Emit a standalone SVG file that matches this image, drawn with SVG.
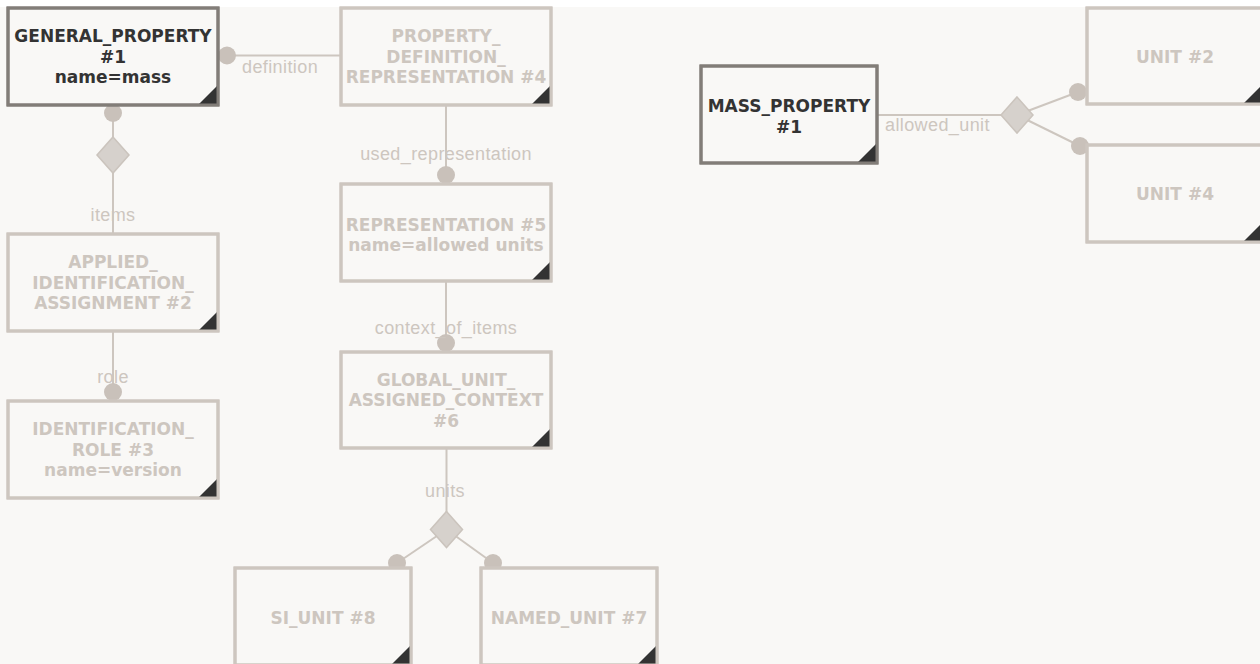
<svg xmlns="http://www.w3.org/2000/svg" width="1260" height="664" viewBox="0 0 1260 664">
<style>
.bg{fill:#f9f8f6}
.box{fill:#f9f8f6;stroke:#cdc6bf;stroke-width:3}
.box.act{stroke:#827d78}
.tri{fill:#333333}
.nt{font-family:"DejaVu Sans",Verdana,sans-serif;font-weight:bold;font-size:17px;fill:#cdc6bf;text-anchor:middle}
.nt.act{fill:#333333}
.ln{stroke:#cdc6bf;stroke-width:2;fill:none}
.dot{fill:#c9c1ba}
.dia{fill:#d6d1cc;stroke:#cbc4bd;stroke-width:1.5}
.lb{font-family:"Liberation Sans",Arial,sans-serif;font-size:18px;letter-spacing:0.4px;fill:#cdc6bf}
.mid{text-anchor:middle}
</style>
<rect width="1260" height="664" fill="#ffffff"/>
<rect class="bg" x="0" y="7" width="1260" height="657"/>

<g id="connectors">
  <!-- definition -->
  <line class="ln" x1="227" y1="55.5" x2="341" y2="55.5"/>
  <circle class="dot" cx="227" cy="55.5" r="9"/>
  <text class="lb" x="242" y="73">definition</text>
  <!-- items -->
  <line class="ln" x1="113" y1="105" x2="113" y2="234"/>
  <circle class="dot" cx="113" cy="113" r="9"/>
  <polygon class="dia" points="113,137 129,155 113,173 97,155"/>
  <text class="lb mid" x="113" y="220.5">items</text>
  <!-- role -->
  <line class="ln" x1="113" y1="331" x2="113" y2="401"/>
  <circle class="dot" cx="113" cy="392" r="9"/>
  <text class="lb mid" x="113" y="383">role</text>
  <!-- used_representation -->
  <line class="ln" x1="446" y1="105" x2="446" y2="184"/>
  <circle class="dot" cx="446" cy="175" r="9"/>
  <text class="lb mid" x="446" y="160">used_representation</text>
  <!-- context_of_items -->
  <line class="ln" x1="446" y1="281" x2="446" y2="352"/>
  <circle class="dot" cx="446" cy="343" r="9"/>
  <text class="lb mid" x="446" y="333.5">context_of_items</text>
  <!-- units -->
  <line class="ln" x1="446.5" y1="448" x2="446.5" y2="529.5"/>
  <line class="ln" x1="446.5" y1="529.5" x2="397" y2="563"/>
  <line class="ln" x1="446.5" y1="529.5" x2="493" y2="563"/>
  <circle class="dot" cx="397" cy="563" r="9"/>
  <circle class="dot" cx="493" cy="563" r="9"/>
  <polygon class="dia" points="446.5,511.5 462.5,529.5 446.5,547.5 430.5,529.5"/>
  <text class="lb mid" x="445" y="497">units</text>
  <!-- allowed_unit -->
  <line class="ln" x1="877" y1="115" x2="1017" y2="115"/>
  <line class="ln" x1="1017" y1="115" x2="1078" y2="92"/>
  <line class="ln" x1="1017" y1="115" x2="1080" y2="146"/>
  <circle class="dot" cx="1078" cy="92" r="9"/>
  <circle class="dot" cx="1080" cy="146" r="9"/>
  <polygon class="dia" points="1017,97 1033,115 1017,133 1001,115"/>
  <text class="lb" x="885" y="131">allowed_unit</text>
</g>

<g id="general_property_1">
  <rect class="box act" x="8" y="8" width="210" height="97"/>
  <polygon class="tri" points="218,85 218,105 198,105"/>
  <rect x="8" y="8" width="210" height="97" fill="none" stroke="#827d78" stroke-width="3"/>
  <text class="nt act" x="113" y="42.2">GENERAL_PROPERTY</text>
  <text class="nt act" x="113" y="62.7">#1</text>
  <text class="nt act" x="113" y="83.2">name=mass</text>
</g>

<g id="property_definition_representation_4">
  <rect class="box" x="341" y="8" width="210" height="97"/>
  <polygon class="tri" points="551,85 551,105 531,105"/>
  <rect x="341" y="8" width="210" height="97" fill="none" stroke="#cdc6bf" stroke-width="3"/>
  <text class="nt" x="446" y="42.2">PROPERTY_</text>
  <text class="nt" x="446" y="62.7">DEFINITION_</text>
  <text class="nt" x="446" y="83.2">REPRESENTATION #4</text>
</g>

<g id="representation_5">
  <rect class="box" x="341" y="184" width="210" height="97"/>
  <polygon class="tri" points="551,261 551,281 531,281"/>
  <rect x="341" y="184" width="210" height="97" fill="none" stroke="#cdc6bf" stroke-width="3"/>
  <text class="nt" x="446" y="230.5">REPRESENTATION #5</text>
  <text class="nt" x="446" y="251">name=allowed units</text>
</g>

<g id="global_unit_assigned_context_6">
  <rect class="box" x="341" y="352" width="210" height="96"/>
  <polygon class="tri" points="551,428 551,448 531,448"/>
  <rect x="341" y="352" width="210" height="96" fill="none" stroke="#cdc6bf" stroke-width="3"/>
  <text class="nt" x="446" y="385.7">GLOBAL_UNIT_</text>
  <text class="nt" x="446" y="406.2">ASSIGNED_CONTEXT</text>
  <text class="nt" x="446" y="426.7">#6</text>
</g>

<g id="applied_identification_assignment_2">
  <rect class="box" x="8" y="234" width="210" height="97"/>
  <polygon class="tri" points="218,311 218,331 198,331"/>
  <rect x="8" y="234" width="210" height="97" fill="none" stroke="#cdc6bf" stroke-width="3"/>
  <text class="nt" x="113" y="268.3">APPLIED_</text>
  <text class="nt" x="113" y="288.8">IDENTIFICATION_</text>
  <text class="nt" x="113" y="309.3">ASSIGNMENT #2</text>
</g>

<g id="identification_role_3">
  <rect class="box" x="8" y="401" width="210" height="97"/>
  <polygon class="tri" points="218,478 218,498 198,498"/>
  <rect x="8" y="401" width="210" height="97" fill="none" stroke="#cdc6bf" stroke-width="3"/>
  <text class="nt" x="113" y="435.2">IDENTIFICATION_</text>
  <text class="nt" x="113" y="455.7">ROLE #3</text>
  <text class="nt" x="113" y="476.2">name=version</text>
</g>

<g id="si_unit_8">
  <rect class="box" x="235" y="568" width="176" height="97"/>
  <polygon class="tri" points="411,645 411,665 391,665"/>
  <rect x="235" y="568" width="176" height="97" fill="none" stroke="#cdc6bf" stroke-width="3"/>
  <text class="nt" x="323" y="624">SI_UNIT #8</text>
</g>

<g id="named_unit_7">
  <rect class="box" x="481" y="568" width="176" height="97"/>
  <polygon class="tri" points="657,645 657,665 637,665"/>
  <rect x="481" y="568" width="176" height="97" fill="none" stroke="#cdc6bf" stroke-width="3"/>
  <text class="nt" x="569" y="624">NAMED_UNIT #7</text>
</g>

<g id="mass_property_1">
  <rect class="box act" x="701" y="66" width="176" height="97"/>
  <polygon class="tri" points="877,143 877,163 857,163"/>
  <rect x="701" y="66" width="176" height="97" fill="none" stroke="#827d78" stroke-width="3"/>
  <text class="nt act" x="789" y="112.3">MASS_PROPERTY</text>
  <text class="nt act" x="789" y="132.8">#1</text>
</g>

<g id="unit_2">
  <rect class="box" x="1087" y="8" width="176" height="96"/>
  <polygon class="tri" points="1263,84 1263,104 1243,104"/>
  <rect x="1087" y="8" width="176" height="96" fill="none" stroke="#cdc6bf" stroke-width="3"/>
  <text class="nt" x="1175" y="62.5">UNIT #2</text>
</g>

<g id="unit_4">
  <rect class="box" x="1087" y="145" width="176" height="97"/>
  <polygon class="tri" points="1263,222 1263,242 1243,242"/>
  <rect x="1087" y="145" width="176" height="97" fill="none" stroke="#cdc6bf" stroke-width="3"/>
  <text class="nt" x="1175" y="200">UNIT #4</text>
</g>
</svg>
